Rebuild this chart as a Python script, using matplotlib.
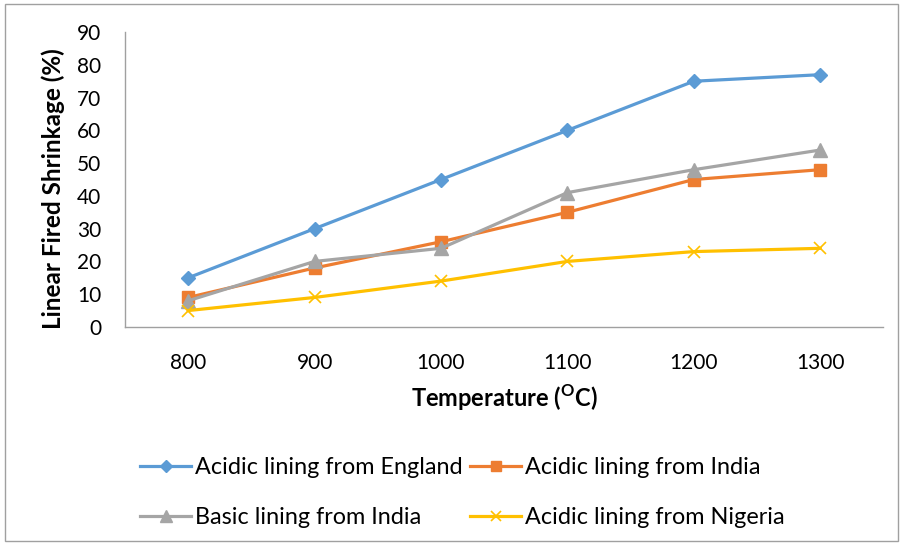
import matplotlib.pyplot as plt
from matplotlib.patches import Rectangle

temperaturas = ["800", "900", "1000", "1100", "1200", "1300"]
england_acidic = [15, 30, 45, 60, 75, 77]
india_acidic = [9, 18, 26, 35, 45, 48]
india_basic = [8, 20, 24, 41, 48, 54]
nigeria_acidic = [5, 9, 14, 20, 23, 24]

plt.rcParams['font.family'] = ['Lato', 'DejaVu Sans']

fig = plt.figure(figsize=(9.06, 5.44), dpi=100)
ax = fig.add_axes([0.138, 0.399, 0.837, 0.542])

x = list(range(len(temperaturas)))
l1, = ax.plot(x, england_acidic, color="#5B9BD5", lw=2.3, marker="D", ms=7.5,
              label="Acidic lining from England")
l2, = ax.plot(x, india_acidic, color="#ED7D31", lw=2.3, marker="s", ms=8.5,
              label="Acidic lining from India")
l3, = ax.plot(x, india_basic, color="#A5A5A5", lw=2.3, marker="^", ms=9.5,
              label="Basic lining from India")
l4, = ax.plot(x, nigeria_acidic, color="#FFC000", lw=2.3, marker="x", ms=9, mew=1.2,
              label="Acidic lining from Nigeria")

ax.set_xlim(-0.5, len(temperaturas) - 0.5)
ax.set_ylim(0, 90)
ax.set_yticks(range(0, 91, 10))
ax.set_xticks(x)
ax.set_xticklabels(temperaturas)
ax.tick_params(length=0, labelsize=15)
ax.tick_params(axis="y", pad=17)
ax.tick_params(axis="x", pad=19)

for lado in ["top", "right"]:
    ax.spines[lado].set_visible(False)
for lado in ["left", "bottom"]:
    ax.spines[lado].set_color("#A0A0A0")
    ax.spines[lado].set_linewidth(1)

ax.set_ylabel("Linear Fired Shrinkage (%)", fontsize=17.5, fontweight="bold")
ax.yaxis.set_label_coords(-0.079, 0.47)
ax.set_xlabel(r"Temperature ($^\mathregular{O}$C)", fontsize=17, fontweight="bold")
ax.xaxis.set_label_coords(0.5, -0.19)

# ordem para ficar Inglaterra/India na primeira linha
fig.legend(handles=[l1, l3, l2, l4], loc="upper left", bbox_to_anchor=(0.1545, 0.160),
           ncol=2, frameon=False, fontsize=16.8, handlelength=2.2, handletextpad=0.17,
           columnspacing=0.3, labelspacing=1.25, borderaxespad=0, borderpad=0,
           markerscale=0.85)

fig.patches.append(Rectangle((0.006, 0.006), 0.985, 0.986, transform=fig.transFigure,
                             fill=False, edgecolor="#A0A0A0", lw=1))

fig.savefig("out.png", dpi=100)
